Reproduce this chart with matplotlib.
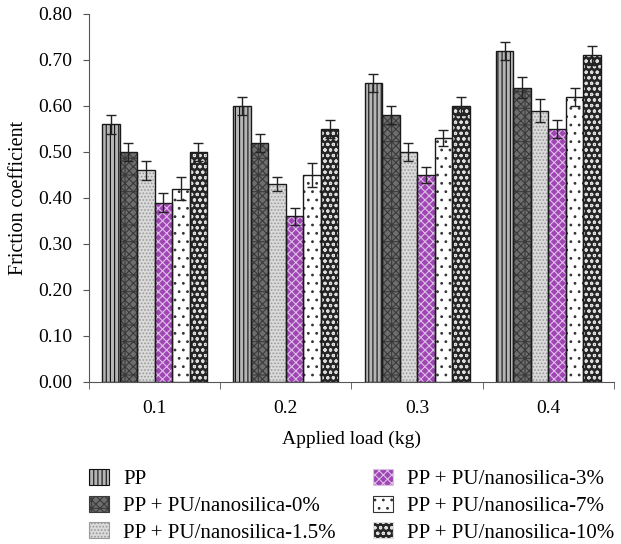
import matplotlib
matplotlib.use("Agg")
import matplotlib.pyplot as plt
import numpy as np
from matplotlib.patches import Patch

plt.rcParams['font.family'] = ['Liberation Serif', 'DejaVu Serif']
plt.rcParams['hatch.linewidth'] = 0.8

loads = ["0.1", "0.2", "0.3", "0.4"]
series = ["PP", "PP + PU/nanosilica-0%", "PP + PU/nanosilica-1.5%",
          "PP + PU/nanosilica-3%", "PP + PU/nanosilica-7%", "PP + PU/nanosilica-10%"]
pp = [0.56, 0.60, 0.65, 0.72]
pu0 = [0.50, 0.52, 0.58, 0.64]
pu15 = [0.46, 0.43, 0.50, 0.59]
pu3 = [0.39, 0.36, 0.45, 0.55]
pu7 = [0.42, 0.45, 0.53, 0.62]
pu10 = [0.50, 0.55, 0.60, 0.71]
err_pp = [0.02, 0.02, 0.02, 0.02]
err_pu0 = [0.02, 0.02, 0.02, 0.022]
err_pu15 = [0.02, 0.015, 0.02, 0.025]
err_pu3 = [0.02, 0.018, 0.018, 0.02]
err_pu7 = [0.025, 0.027, 0.018, 0.02]
err_pu10 = [0.02, 0.02, 0.02, 0.02]

values = [pp, pu0, pu15, pu3, pu7, pu10]
errors = [err_pp, err_pu0, err_pu15, err_pu3, err_pu7, err_pu10]
faces = ['#b5b5b5', '#6e6e6e', '#dadada', '#a046b4', '#ffffff', '#262626']
hatches = ['||||', 'xxxx+', '.....', 'xxxx', '..', 'ooo']
hcolors = ['#111111', '#3a3a3a', '#9a9a9a', '#dcbfe6', '#333333', '#dddddd']

fig = plt.figure(figsize=(6.21, 5.44), dpi=100)
ax = fig.add_axes([0.1433, 0.2978, 0.8454, 0.6765])

x = np.arange(len(loads))
w = 0.8 / 6
for i in range(6):
    pos = x - 0.4 + w * (i + 0.5)
    ax.bar(pos, values[i], w, color=faces[i], hatch=hatches[i],
           edgecolor=hcolors[i], linewidth=0, zorder=2)
    ax.bar(pos, values[i], w, fill=False, edgecolor='#1a1a1a', linewidth=1.0, zorder=3)
    ax.errorbar(pos, values[i], yerr=errors[i], fmt='none', ecolor='#222222',
                elinewidth=1.0, capsize=3.5, capthick=1.0, zorder=4)

ax.set_xlim(-0.5, len(loads) - 0.5)
ax.set_ylim(0, 0.8)
ax.set_yticks(np.arange(0, 0.81, 0.1))
ax.set_yticklabels([f"{v:.2f}" for v in np.arange(0, 0.81, 0.1)])
ax.set_xticks(x)
ax.set_xticklabels(loads)
ax.set_xticks(np.arange(-0.5, len(loads)), minor=True)
ax.tick_params(axis='x', which='major', length=0, pad=13, labelsize=14)
ax.tick_params(axis='x', which='minor', length=5, direction='out', color='#555555')
ax.tick_params(axis='y', length=4, direction='out', color='#555555', labelsize=14, pad=8)
for s in ['top', 'right']:
    ax.spines[s].set_visible(False)
for s in ['left', 'bottom']:
    ax.spines[s].set_color('#555555')
ax.set_ylabel("Friction coefficient", fontsize=14.5, labelpad=7)
ax.set_xlabel("Applied load (kg)", fontsize=14, labelpad=10)

handles = [Patch(facecolor=faces[i], hatch=hatches[i], edgecolor=hcolors[i] if i != 4 else '#333333',
                 linewidth=0.8) for i in range(6)]
fig.legend(handles, series, ncol=2, loc='upper left', bbox_to_anchor=(89 / 621, 1 - 469 / 544),
           frameon=False, fontsize=15, handlelength=0.96, handleheight=0.82,
           columnspacing=1.8, labelspacing=0.3, handletextpad=0.67,
           borderpad=0, borderaxespad=0)

fig.savefig("out.png", dpi=100)
